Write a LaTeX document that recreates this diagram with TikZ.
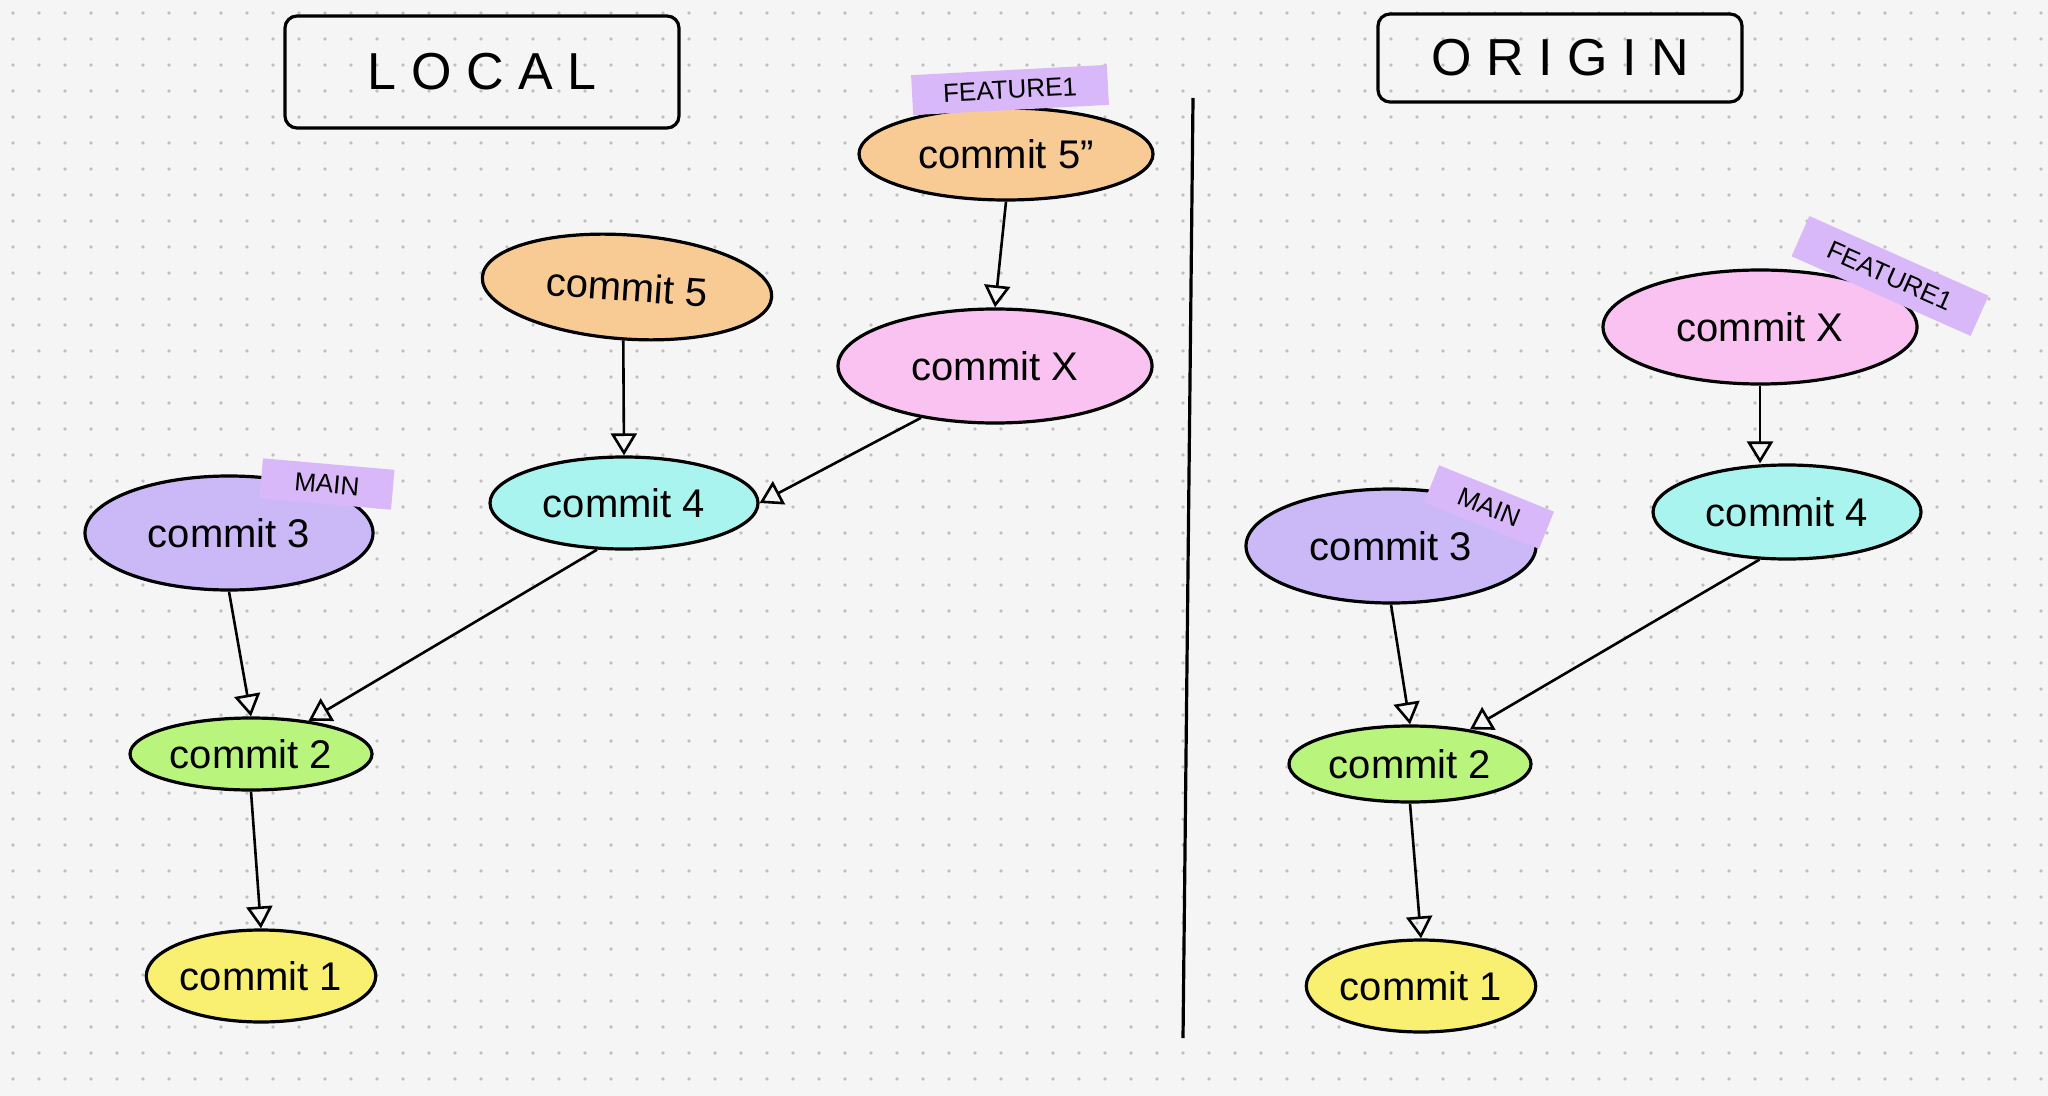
\documentclass[tikz,border=0pt]{standalone}
\usepackage{fontspec}
\setmainfont{Liberation Sans}
\usepackage{xcolor}
\usetikzlibrary{arrows.meta}
\usetikzlibrary{shapes.geometric}
\definecolor{bgcol}{HTML}{F5F5F5}
\definecolor{orangec}{HTML}{F8CB94}
\definecolor{purplec}{HTML}{CBB9F7}
\definecolor{pinkc}{HTML}{F9C2F1}
\definecolor{cyanc}{HTML}{A9F4EE}
\definecolor{greenc}{HTML}{B9F47C}
\definecolor{yellowc}{HTML}{F9F072}
\definecolor{tapec}{HTML}{D9B8FA}
\tikzset{
    cnode/.style = {ellipse, draw=black, line width=1.6pt, inner sep=0pt, font=\fontsize{20}{24}\selectfont},
    orange_node/.style = {cnode, fill=orangec},
    purple_node/.style = {cnode, fill=purplec},
    pink_node/.style = {cnode, fill=pinkc},
    cyan_node/.style = {cnode, fill=cyanc},
    green_node/.style = {cnode, fill=greenc},
    yellow_node/.style = {cnode, fill=yellowc},
    tape/.style = {rectangle, fill=tapec, inner sep=3pt, font=\fontsize{13}{15}\selectfont},
    title/.style = {rectangle, draw=black, line width=1.6pt, rounded corners=6pt, font=\fontsize{26}{30}\selectfont},
    link/.style = {-{Triangle[open, length=11pt, width=13pt]}, line width=1.3pt}
}
\begin{document}
\begin{tikzpicture}[x=0.5pt, y=-0.5pt]
    \fill[bgcol] (0,0) rectangle (2048,1096);
    \useasboundingbox (0,0) rectangle (2048,1096);
    \foreach \i in {0,...,78}
        \foreach \j in {0,...,42}
            \fill[black!25] (13+26*\i,13+26*\j) circle (0.9pt);
    % titles
    \node[title, minimum width=197pt, minimum height=56pt] (local) at (482,72) {L O C A L};
    \node[title, minimum width=182pt, minimum height=44pt] (origin) at (1560,58) {O R I G I N};
    \coordinate (divtop) at (1193,98);
    \coordinate (divbot) at (1183,1038);
    \draw[line width=1.6pt] (divtop) -- (divbot);
    % local
    \node[orange_node, minimum width=147pt, minimum height=46pt] (l5b) at (1006,154) {commit 5''};
    \node[tape, minimum width=98pt, minimum height=20pt, rotate=3] (lfeat) at (1010,90) {FEATURE1};
    \node[orange_node, minimum width=145pt, minimum height=52pt, rotate=-4] (l5) at (627,287) {commit 5};
    \node[pink_node, minimum width=157pt, minimum height=57pt] (lx) at (995,366) {commit X};
    \node[cyan_node, minimum width=134pt, minimum height=46pt] (l4) at (624,503) {commit 4};
    \node[purple_node, minimum width=144pt, minimum height=57pt] (l3) at (229,533) {commit 3};
    \node[tape, minimum width=66pt, minimum height=20pt, rotate=-5] (lmain) at (327,484) {MAIN};
    \node[green_node, minimum width=121pt, minimum height=36pt] (l2) at (251,754) {commit 2};
    \node[yellow_node, minimum width=105pt, minimum height=46pt] (l1) at (261,976) {commit 1};
    \draw[link] (l5b.south) -- (lx.north);
    \draw[link] (l5.south) -- (l4.north);
    \draw[link] (lx.215) -- (l4.east);
    \draw[link] (l4.-120) -- (l2.30);
    \draw[link] (l3.south) -- (l2.north);
    \draw[link] (l2.south) -- (l1.north);
    % origin
    \node[pink_node, minimum width=157pt, minimum height=57pt] (ox) at (1760,327) {commit X};
    \node[tape, minimum width=98pt, minimum height=22pt, rotate=-24] (ofeat) at (1890,276) {FEATURE1};
    \node[cyan_node, minimum width=134pt, minimum height=47pt] (o4) at (1787,512) {commit 4};
    \node[purple_node, minimum width=145pt, minimum height=57pt] (o3) at (1391,546) {commit 3};
    \node[tape, minimum width=62pt, minimum height=20pt, rotate=-22] (omain) at (1489,507) {MAIN};
    \node[green_node, minimum width=121pt, minimum height=38pt] (o2) at (1410,764) {commit 2};
    \node[yellow_node, minimum width=105pt, minimum height=46pt] (o1) at (1421,986) {commit 1};
    \draw[link] (ox.south) -- (o4.north -| ox.south);
    \draw[link] (o4.-120) -- (o2.30);
    \draw[link] (o3.south) -- (o2.north);
    \draw[link] (o2.south) -- (o1.north);
\end{tikzpicture}
\end{document}
